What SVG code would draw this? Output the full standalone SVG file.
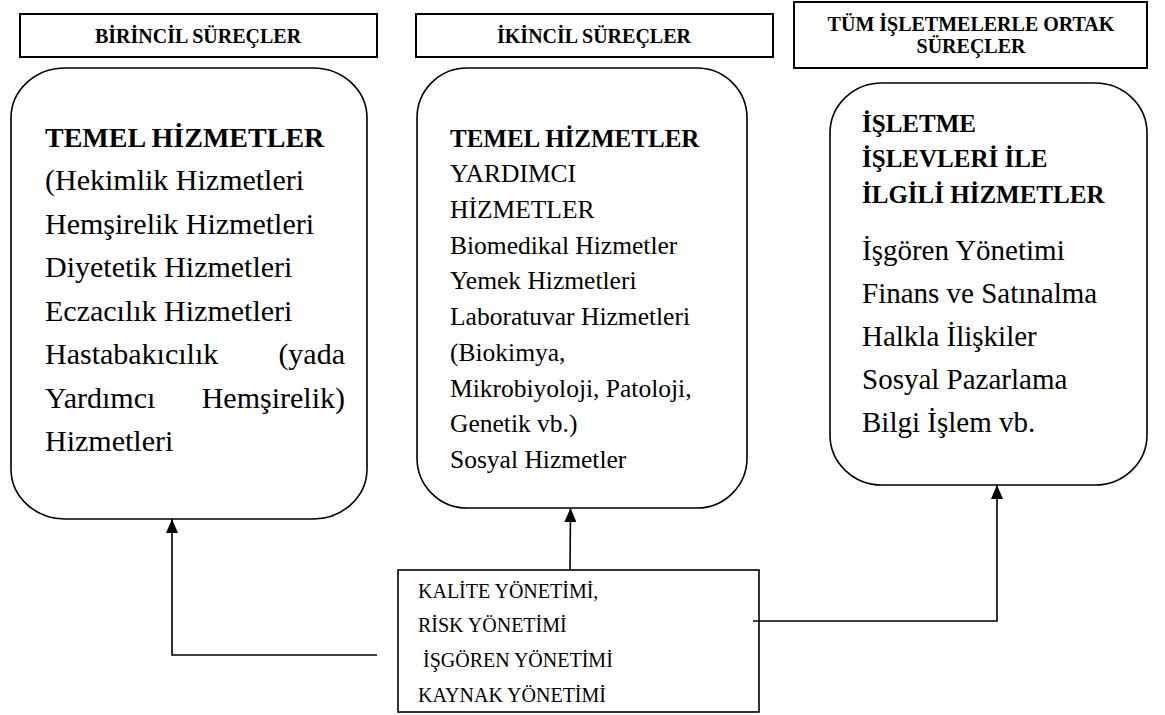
<svg xmlns="http://www.w3.org/2000/svg" width="1165" height="715" viewBox="0 0 1165 715">
<style>
.hdr{fill:#fff;stroke:#000;stroke-width:2}
.box{fill:#fff;stroke:#000;stroke-width:1.6}
.ln{fill:none;stroke:#000;stroke-width:1.6}
text{font-family:"Liberation Serif","Times New Roman",serif;fill:#000}
.h{font-weight:bold;font-size:20px;text-anchor:middle}
.b1{font-weight:bold;font-size:28px}
.r1{font-size:30px}
.b2{font-weight:bold;font-size:25px}
.r2{font-size:25.5px}
.b3{font-weight:bold;font-size:25px}
.r3{font-size:29px}
.r4{font-size:20px}
</style>
<defs>
<marker id="ah" markerWidth="14" markerHeight="12" refX="14" refY="6" orient="auto" markerUnits="userSpaceOnUse" viewBox="0 0 14 12">
<path d="M0,0 L14,6 L0,12 Z" fill="#000"/>
</marker>
</defs>
<rect width="1165" height="715" fill="#fff"/>
<g id="header1">
<rect class="hdr" x="20" y="14" width="357" height="43"/>
<text class="h" x="198" y="43">BİRİNCİL SÜREÇLER</text>
</g>
<g id="header2">
<rect class="hdr" x="416" y="14" width="357" height="43"/>
<text class="h" x="594" y="43">İKİNCİL SÜREÇLER</text>
</g>
<g id="header3">
<rect class="hdr" x="794" y="2" width="353" height="66"/>
<text class="h" x="971" y="31">TÜM İŞLETMELERLE ORTAK</text>
<text class="h" x="971" y="53">SÜREÇLER</text>
</g>
<g id="box1">
<rect class="box" x="11" y="68" width="356" height="451" rx="54" ry="50"/>
<text class="b1" x="45" y="147">TEMEL HİZMETLER</text>
<text class="r1" x="45" y="190">(Hekimlik Hizmetleri</text>
<text class="r1" x="45" y="234">Hemşirelik Hizmetleri</text>
<text class="r1" x="45" y="277">Diyetetik Hizmetleri</text>
<text class="r1" x="45" y="321">Eczacılık Hizmetleri</text>
<text class="r1" x="45" y="364">Hastabakıcılık</text>
<text class="r1" x="345" y="364" text-anchor="end">(yada</text>
<text class="r1" x="45" y="408">Yardımcı</text>
<text class="r1" x="345" y="408" text-anchor="end">Hemşirelik)</text>
<text class="r1" x="45" y="451">Hizmetleri</text>
</g>
<g id="box2">
<rect class="box" x="417" y="68" width="330" height="440" rx="50" ry="50"/>
<text class="b2" x="450" y="147">TEMEL HİZMETLER</text>
<text class="r2" x="450" y="182">YARDIMCI</text>
<text class="r2" x="450" y="218">HİZMETLER</text>
<text class="r2" x="450" y="254">Biomedikal Hizmetler</text>
<text class="r2" x="450" y="289">Yemek Hizmetleri</text>
<text class="r2" x="450" y="325">Laboratuvar Hizmetleri</text>
<text class="r2" x="450" y="361">(Biokimya,</text>
<text class="r2" x="450" y="397">Mikrobiyoloji, Patoloji,</text>
<text class="r2" x="450" y="432">Genetik vb.)</text>
<text class="r2" x="450" y="468">Sosyal Hizmetler</text>
</g>
<g id="box3">
<rect class="box" x="830" y="83" width="317" height="402" rx="52" ry="50"/>
<text class="b3" x="862" y="132">İŞLETME</text>
<text class="b3" x="862" y="167">İŞLEVLERİ İLE</text>
<text class="b3" x="862" y="203">İLGİLİ HİZMETLER</text>
<text class="r3" x="862" y="260">İşgören Yönetimi</text>
<text class="r3" x="862" y="303">Finans ve Satınalma</text>
<text class="r3" x="862" y="346">Halkla İlişkiler</text>
<text class="r3" x="862" y="389">Sosyal Pazarlama</text>
<text class="r3" x="862" y="432">Bilgi İşlem vb.</text>
</g>
<g id="box4">
<rect class="box" x="398" y="570" width="361" height="142"/>
<text class="r4" x="418" y="598">KALİTE YÖNETİMİ,</text>
<text class="r4" x="418" y="632">RİSK YÖNETİMİ</text>
<text class="r4" x="418" y="667" xml:space="preserve"> İŞGÖREN YÖNETİMİ</text>
<text class="r4" x="418" y="702">KAYNAK YÖNETİMİ</text>
</g>
<g id="connectors">
<path class="ln" d="M377,655 H172 V519" marker-end="url(#ah)"/>
<path class="ln" d="M570,570 L570.5,508" marker-end="url(#ah)"/>
<path class="ln" d="M753,621 H997 V485" marker-end="url(#ah)"/>
</g>
</svg>
